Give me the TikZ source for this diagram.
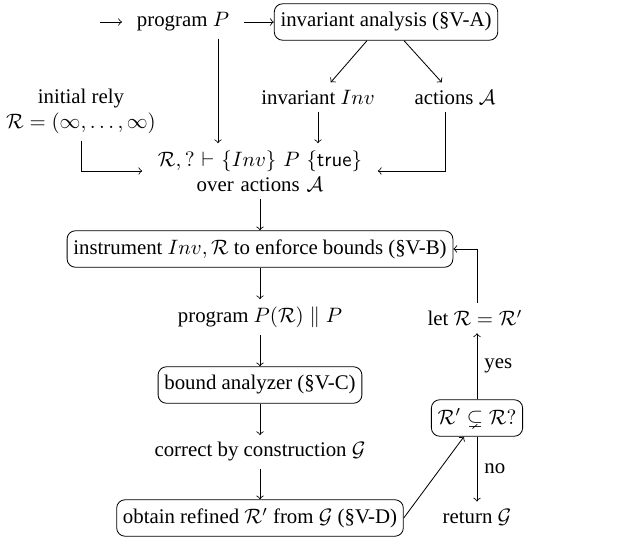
\documentclass[tikz,border=0pt]{standalone}
\usepackage{amssymb}
\usepackage{fontspec}
\setmainfont{Liberation Serif}

\begin{document}
\begin{tikzpicture}[x=0.48pt,y=-0.48pt]
	
	\tikzstyle{stage} = [rectangle, rounded corners, inner xsep=3pt, minimum height=17.5pt, text centered, draw=black]
	\tikzstyle{info} = [text centered, align=center]
	\tikzstyle{arrow} = [->]
	
	\useasboundingbox (0,0) rectangle (622,537);
	
	% top row
	\coordinate (in) at (100,22);
	\node (prog) [info, inner xsep=7pt] at (183,22) {program $P$};
	\node (inva) [stage] at (386,22) {invariant analysis (\S V-A)};
	\node (inv) [info] at (318,97) {invariant $Inv$};
	\node (acts) [info] at (455,97) {actions $\mathcal{A}$};
	\node (rely) [info] at (81,111) {initial rely\\ $\mathcal{R} = (\infty, \ldots, \infty)$};
	\node (triple) [info, text width=106pt] at (260,171) {$\mathcal{R}, ? \vdash \{Inv\}\ P\ \{\mathsf{true}\}$\\ over actions $\mathcal{A}$};
	
	% main column
	\node (instr) [stage] at (260,249) {instrument $Inv, \mathcal{R}$ to enforce bounds (\S V-B)};
	\node (prgpar) [info] at (260,317) {program $P(\mathcal{R}) \parallel P$};
	\node (bound) [stage] at (260,385) {bound analyzer (\S V-C)};
	\node (gcorr) [info] at (260,452) {correct by construction $\mathcal{G}$};
	\node (refine) [stage] at (260,518) {obtain refined $\mathcal{R}'$ from $\mathcal{G}$ (\S V-D)};
	
	% loop on the right
	\node (check) [stage] at (477,418) {$\mathcal{R}' \subsetneq \mathcal{R}?$};
	\node (let) [info] at (475,318) {let $\mathcal{R} = \mathcal{R}'$};
	\node (ret) [info] at (477,517) {return $\mathcal{G}$};
	
	\draw [arrow] (in) -- (prog);
	\draw [arrow] (prog) -- (inva);
	\draw [arrow] (inva.south) ++(-19,0) -- (inv);
	\draw [arrow] (inva.south) ++(18,0) -- (acts);
	\draw [arrow] (prog.south) ++(35,0) coordinate (p) -- (p |- triple.north);
	\draw [arrow] (inv) -- (inv |- triple.north);
	\draw [arrow] (rely.south) |- (triple.west);
	\draw [arrow] (acts.south) ++(-10,0) |- (triple.east);
	
	\draw [arrow] (triple) -- (instr);
	\draw [arrow] (instr) -- (prgpar);
	\draw [arrow] (prgpar) -- (bound);
	\draw [arrow] (bound) -- (gcorr);
	\draw [arrow] (gcorr) -- (refine);
	
	\draw [arrow] (refine.east) -- (check.235);
	\draw [arrow] (check) -- node [right] {yes} (check |- let.south);
	\draw [arrow] (check) -- node [right] {no} (ret);
	\draw [arrow] (check |- let.north) |- (instr.east);
	
\end{tikzpicture}
\end{document}
